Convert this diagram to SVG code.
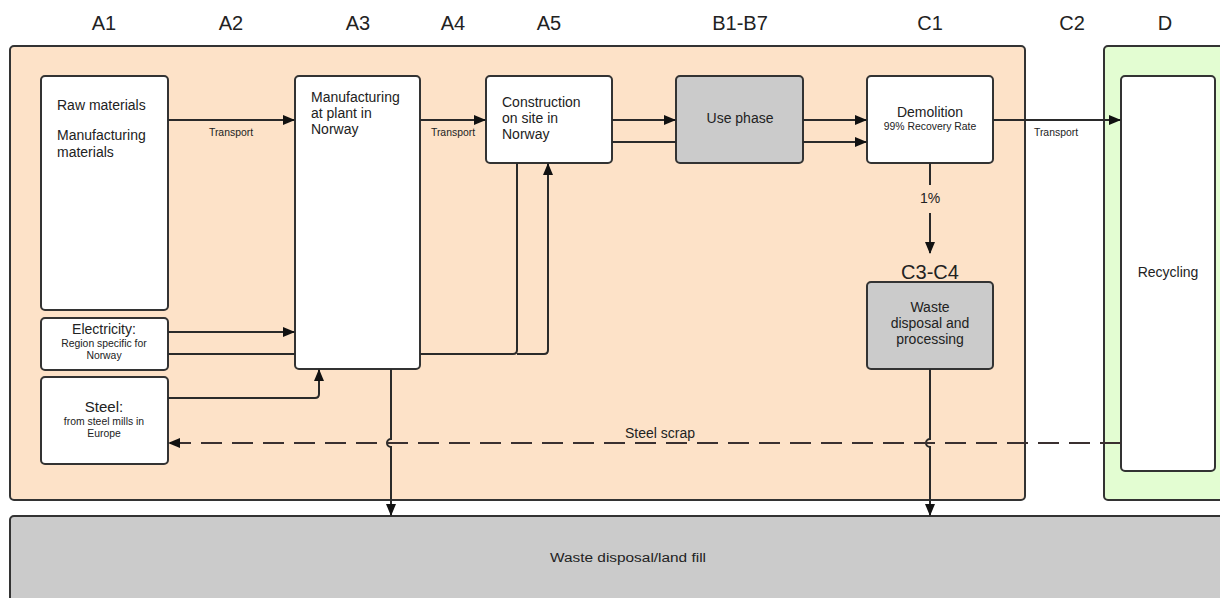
<svg xmlns="http://www.w3.org/2000/svg" width="1220" height="598" viewBox="0 0 1220 598">
<style>
text{font-family:"Liberation Sans",Arial,sans-serif;fill:#222}
.box{fill:#fff;stroke:#333;stroke-width:2}
.gray{fill:#cbcbcb;stroke:#333;stroke-width:2}
.ln{fill:none;stroke:#2a2a2a;stroke-width:2}
.dash{fill:none;stroke:#3a3030;stroke-width:2;stroke-dasharray:21 10}
.col{font-size:20px;text-anchor:middle}
.t13{font-size:14px}
.c{text-anchor:middle}
.sm{font-size:10.4px}
</style>
<defs>
<marker id="ah" markerWidth="12" markerHeight="10" refX="11" refY="5" orient="auto" markerUnits="userSpaceOnUse">
<path d="M0,0 L12,5 L0,10 Z" fill="#111"/>
</marker>
</defs>
<g id="columns">
<text class="col" x="104" y="30">A1</text>
<text class="col" x="231" y="30">A2</text>
<text class="col" x="358" y="30">A3</text>
<text class="col" x="453" y="30">A4</text>
<text class="col" x="549" y="30">A5</text>
<text class="col" x="740" y="30">B1-B7</text>
<text class="col" x="930" y="30">C1</text>
<text class="col" x="1072" y="30">C2</text>
<text class="col" x="1165" y="30">D</text>
</g>
<g id="containers">
<rect x="10" y="46" width="1015" height="454" rx="4" fill="#fde2c8" stroke="#333" stroke-width="2"/>
<rect x="1104" y="46" width="124" height="454" rx="4" fill="#e3fdd2" stroke="#333" stroke-width="2"/>
</g>
<g id="landfill">
<rect x="10" y="516" width="1218" height="90" rx="4" class="gray"/>
<text x="628" y="562" font-size="12.5" text-anchor="middle" textLength="156" lengthAdjust="spacingAndGlyphs">Waste disposal/land fill</text>
</g>
<g id="raw">
<rect x="41" y="76" width="127" height="234" rx="4" class="box"/>
<text class="t13" x="57" y="110">Raw materials</text>
<text class="t13" x="57" y="140">Manufacturing</text>
<text class="t13" x="57" y="157">materials</text>
</g>
<g id="electricity">
<rect x="41" y="318" width="127" height="52" rx="4" class="box"/>
<text class="t13 c" x="104" y="334">Electricity:</text>
<text class="sm c" x="104" y="347">Region specific for</text>
<text class="sm c" x="104" y="359">Norway</text>
</g>
<g id="steel">
<rect x="41" y="377" width="127" height="87" rx="4" class="box"/>
<text class="c" font-size="15" x="104" y="412">Steel:</text>
<text class="sm c" x="104" y="425">from steel mills in</text>
<text class="sm c" x="104" y="437">Europe</text>
</g>
<g id="manufacturing">
<rect x="295" y="76" width="125" height="293" rx="4" class="box"/>
<text class="t13" x="311" y="102">Manufacturing</text>
<text class="t13" x="311" y="118">at plant in</text>
<text class="t13" x="311" y="134">Norway</text>
</g>
<g id="construction">
<rect x="486" y="76" width="126" height="87" rx="4" class="box"/>
<text class="t13" x="502" y="107">Construction</text>
<text class="t13" x="502" y="123">on site in</text>
<text class="t13" x="502" y="139">Norway</text>
</g>
<g id="use">
<rect x="676" y="76" width="127" height="87" rx="4" class="gray"/>
<text class="c" font-size="14" x="740" y="123">Use phase</text>
</g>
<g id="demolition">
<rect x="867" y="76" width="126" height="87" rx="4" class="box"/>
<text class="t13 c" x="930" y="117">Demolition</text>
<text class="sm c" x="930" y="130">99% Recovery Rate</text>
</g>
<g id="waste">
<text class="c" font-size="20" x="930" y="279">C3-C4</text>
<rect x="867" y="282" width="126" height="87" rx="4" class="gray"/>
<text class="t13 c" x="930" y="312">Waste</text>
<text class="t13 c" x="930" y="328">disposal and</text>
<text class="t13 c" x="930" y="344">processing</text>
</g>
<g id="recycling">
<rect x="1121" y="76" width="94" height="395" rx="4" class="box"/>
<text class="t13 c" x="1168" y="277">Recycling</text>
</g>
<g id="connectors">
<line class="ln" x1="168" y1="120" x2="294" y2="120" marker-end="url(#ah)"/>
<text class="sm c" x="231" y="136">Transport</text>
<line class="ln" x1="420" y1="120" x2="485" y2="120" marker-end="url(#ah)"/>
<text class="sm c" x="453" y="136">Transport</text>
<line class="ln" x1="612" y1="120" x2="675" y2="120" marker-end="url(#ah)"/>
<line class="ln" x1="612" y1="142" x2="676" y2="142"/>
<line class="ln" x1="803" y1="120" x2="866" y2="120" marker-end="url(#ah)"/>
<line class="ln" x1="803" y1="142" x2="866" y2="142" marker-end="url(#ah)"/>
<line class="ln" x1="993" y1="120" x2="1120" y2="120" marker-end="url(#ah)"/>
<text class="sm c" x="1056" y="136">Transport</text>
<line class="ln" x1="930" y1="163" x2="930" y2="185"/>
<text class="c" font-size="14" x="930" y="203">1%</text>
<line class="ln" x1="930" y1="213" x2="930" y2="253" marker-end="url(#ah)"/>
<line class="ln" x1="168" y1="332" x2="294" y2="332" marker-end="url(#ah)"/>
<line class="ln" x1="168" y1="354" x2="295" y2="354"/>
<path class="ln" d="M168,398 H315 Q319,398 319,394 V370" marker-end="url(#ah)"/>
<path class="ln" d="M420,354 H513 Q517,354 517,350 V163"/>
<path class="ln" d="M517,354 H544 Q548,354 548,350 V164" marker-end="url(#ah)"/>
<path class="ln" d="M391,369 V439 A4,4 0 0 0 391,447 V515" marker-end="url(#ah)"/>
<path class="ln" d="M930,369 V439 A4,4 0 0 0 930,447 V515" marker-end="url(#ah)"/>
<path class="dash" d="M1121,443 H169" marker-end="url(#ah)"/>
<text class="c" font-size="14" x="660" y="438">Steel scrap</text>
</g>
</svg>
